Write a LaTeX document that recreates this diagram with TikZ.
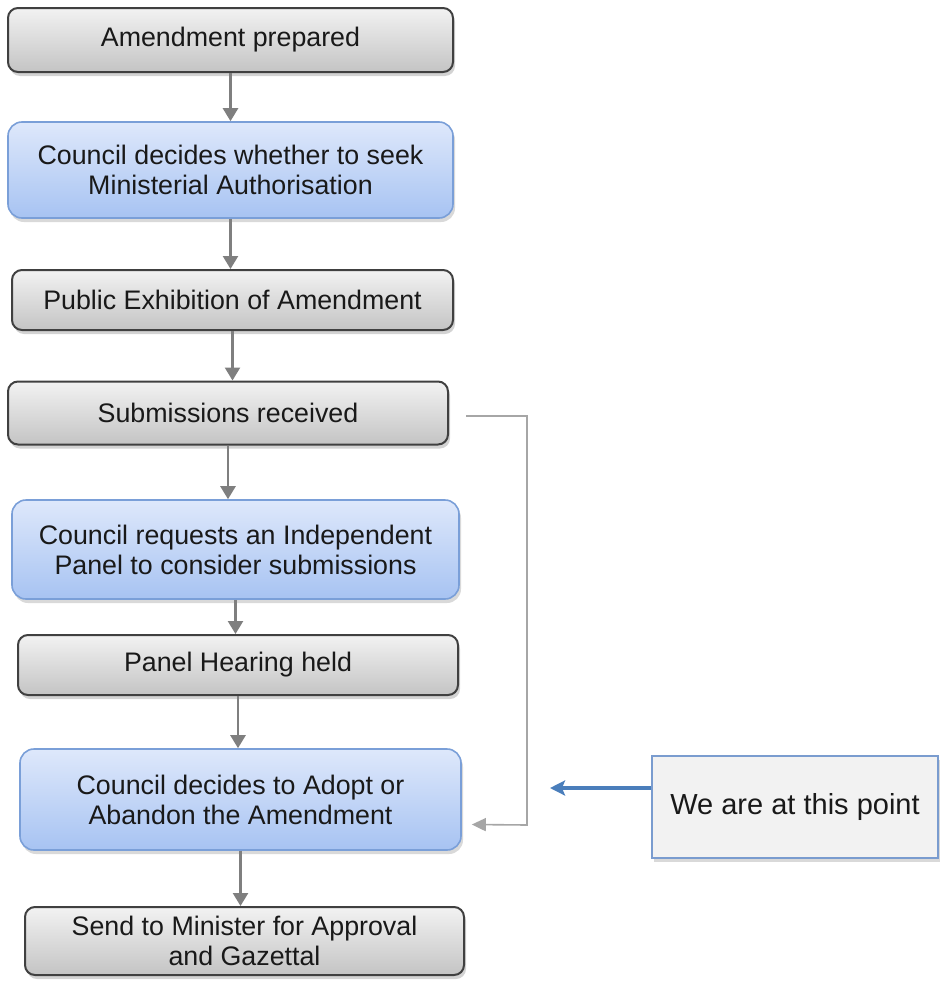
\documentclass[tikz,border=0pt]{standalone}
\usepackage{fontspec}
\setmainfont{Liberation Sans}
\usepackage{xcolor}
\usetikzlibrary{positioning,arrows.meta,shadows,calc}

\definecolor{greytop}{HTML}{F2F2F2}
\definecolor{greybot}{HTML}{C4C4C4}
\definecolor{greyedge}{HTML}{404040}
\definecolor{bluetop}{HTML}{DEE8FB}
\definecolor{bluebot}{HTML}{A7C3F2}
\definecolor{blueedge}{HTML}{7A9FD8}
\definecolor{notefill}{HTML}{F2F2F2}
\definecolor{noteedge}{HTML}{7A9CCF}
\definecolor{arrgrey}{HTML}{7F7F7F}
\definecolor{backgrey}{HTML}{A6A6A6}
\definecolor{pointblue}{HTML}{4A7EBB}

\begin{document}
\begin{tikzpicture}[
      x=1pt, y=-1pt,
      step text/.style={align=center, font=\fontsize{26.8}{30}\selectfont, text=black!90, inner sep=0pt},
      greybox/.style={step text, draw=greyedge, line width=2pt, rounded corners=10pt,
        top color=greytop, bottom color=greybot,
        drop shadow={shadow xshift=2pt, shadow yshift=-4pt, opacity=0.35}},
      bluebox/.style={step text, draw=blueedge, line width=1.6pt, rounded corners=14pt,
        top color=bluetop, bottom color=bluebot,
        drop shadow={shadow xshift=2pt, shadow yshift=-4pt, opacity=0.3}},
      notebox/.style={step text, font=\fontsize{29}{32}\selectfont, draw=noteedge, line width=1.5pt, fill=notefill,
        minimum width=286pt, minimum height=102pt,
        drop shadow={shadow xshift=2pt, shadow yshift=-4pt, opacity=0.3}},
      arr/.style={-{Triangle[length=13pt,width=15pt]}, draw=arrgrey, line width=2.5pt},
      backarr/.style={-{Triangle[length=14pt,width=13pt]}, draw=backgrey, line width=1.6pt},
      pointer/.style={-{Stealth[length=15pt,width=15pt,inset=3pt]}, draw=pointblue, line width=4pt}
  ]
    \useasboundingbox (0,0) rectangle (940,985);
    \node[greybox, minimum width=445pt, minimum height=64pt] (amend) at (230.5,40) {Amendment prepared};
    \node[bluebox, minimum width=445pt, minimum height=96pt] (seek) at (230.5,170) {Council decides whether to seek\\Ministerial Authorisation};
    \node[greybox, minimum width=441pt, minimum height=60pt] (exhib) at (232.5,300) {Public Exhibition of Amendment};
    \node[greybox, minimum width=440pt, minimum height=63pt] (subm) at (228,413) {Submissions received};
    \node[bluebox, minimum width=447pt, minimum height=99pt] (panel) at (235.5,549.5) {Council requests an Independent\\Panel to consider submissions};
    \node[greybox, minimum width=440pt, minimum height=60pt] (hearing) at (238,665) {Panel Hearing held};
    \node[bluebox, minimum width=441pt, minimum height=101pt] (adopt) at (240.5,799.5) {Council decides to Adopt or\\Abandon the Amendment};
    \node[greybox, minimum width=439pt, minimum height=68pt] (minister) at (244.5,941) {Send to Minister for Approval\\and Gazettal};
    \node[notebox] (note) at (795,807) {We are at this point};
    % main flow
    \draw[arr] (amend) -- (amend |- seek.north);
    \draw[arr] (seek) -- (seek |- exhib.north);
    \draw[arr] (exhib) -- (exhib |- subm.north);
    \draw[arr] (subm) -- (subm |- panel.north);
    \draw[arr] (panel) -- (panel |- hearing.north);
    \draw[arr] (hearing) -- (hearing |- adopt.north);
    \draw[arr] (adopt) -- (adopt |- minister.north);
    % no panel needed
    \coordinate (backstart) at ([xshift=17pt,yshift=-3pt]subm.east);
    \coordinate (backend) at ([xshift=10pt,yshift=-25pt]adopt.east);
    \coordinate (backcorner) at (527,825);
    \draw[backarr] (backstart) -| (backcorner) -- (backend);
    % where we are
    \coordinate (tip) at (550,788);
    \draw[pointer] (note.west |- tip) -- (tip);
  \end{tikzpicture}
\end{document}
